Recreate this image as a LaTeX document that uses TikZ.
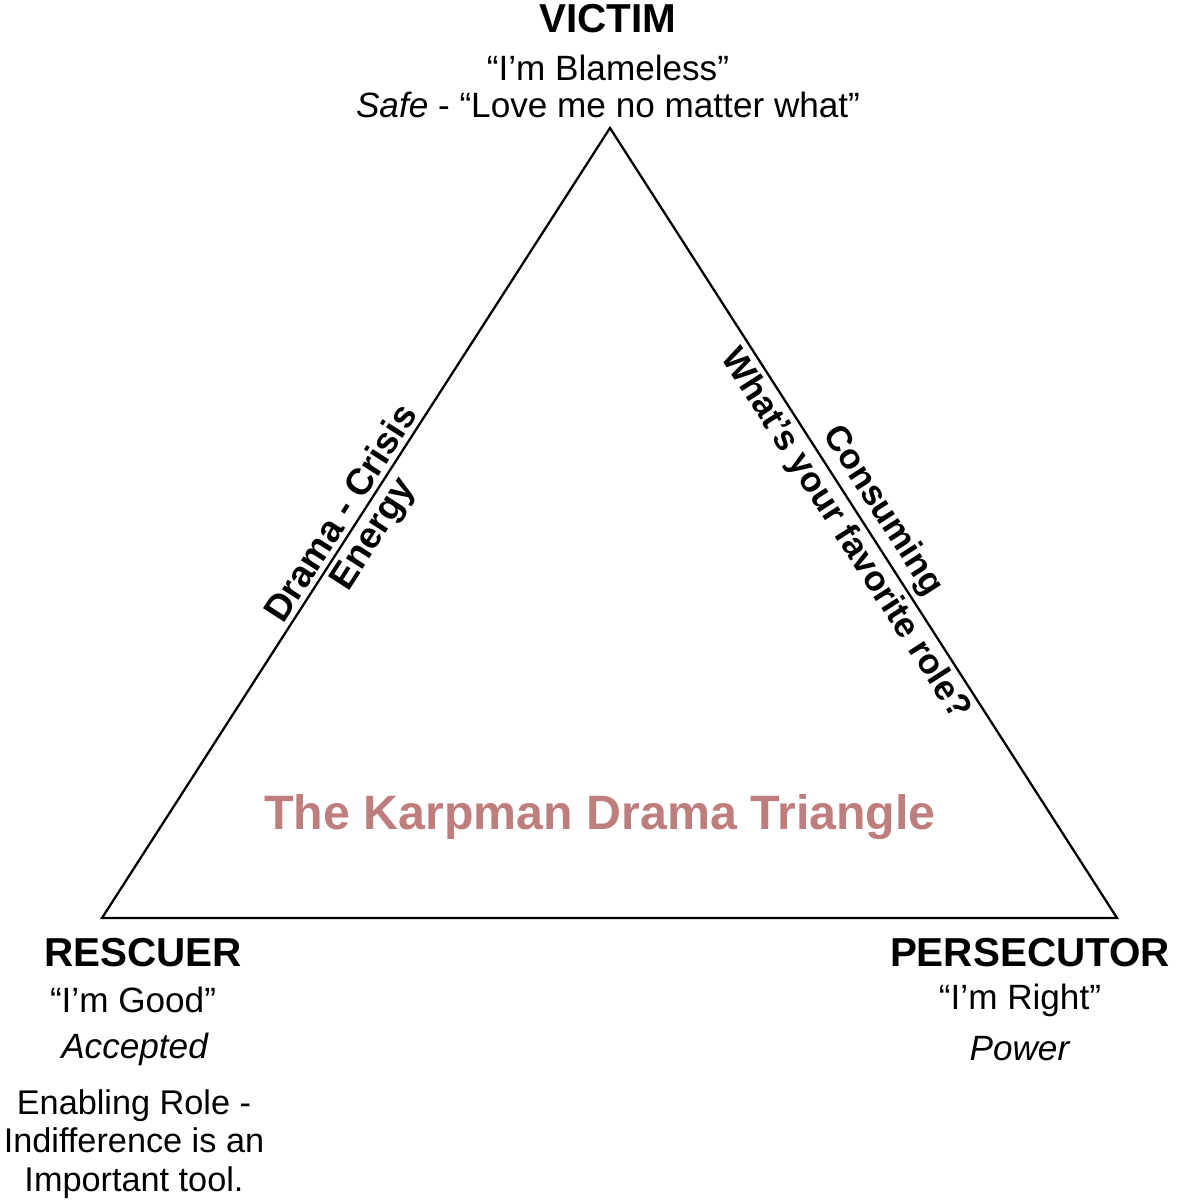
\documentclass[tikz,border=0pt]{standalone}
\usepackage{fontspec}
\setmainfont{Liberation Sans}
\usetikzlibrary{positioning}
\definecolor{titlerose}{RGB}{190,126,126}
\tikzset{
    rolename/.style={font=\fontsize{23}{27}\selectfont\bfseries, text centered, inner sep=0pt},
    motto/.style={font=\fontsize{20}{24}\selectfont, text centered, inner sep=0pt},
    note/.style={font=\fontsize{19.5}{21.8}\selectfont, align=center, inner sep=0pt},
    edgetext/.style={font=\fontsize{20}{24}\selectfont\bfseries, sloped, inner sep=3pt},
    edge/.style={line width=1.3pt, line join=miter},
    title/.style={font=\fontsize{27.5}{32}\selectfont\bfseries, color=titlerose}
}
\begin{document}
\begin{tikzpicture}

% Page frame
\useasboundingbox (0,0) rectangle (23.58,24);

% Triangle corners
\coordinate (victim_pt) at (12.2,21.44);
\coordinate (rescuer_pt) at (2.04,5.64);
\coordinate (persecutor_pt) at (22.34,5.64);

% Triangle
\draw[edge] (victim_pt) -- (persecutor_pt) -- (rescuer_pt) -- cycle;

% Victim (top)
\node[rolename] (victim) at (12.16,23.62) {VICTIM};
\node[motto] (victim_motto) at (12.16,22.64) {“I’m Blameless”};
\node[motto] (victim_need) at (12.16,21.9) {\textit{Safe} - “Love me no matter what”};

% Rescuer (bottom left)
\node[rolename] (rescuer) at (2.86,4.94) {RESCUER};
\node[motto] (rescuer_motto) at (2.66,4.0) {“I’m Good”};
\node[motto] (rescuer_need) at (2.7,3.02) {\textit{Accepted}};
\node[note] (rescuer_note) at (2.68,1.12) {Enabling Role -\\Indifference is an\\Important tool.};

% Persecutor (bottom right)
\node[rolename] (persecutor) at (20.6,4.94) {PERSECUTOR};
\node[motto] (persecutor_motto) at (20.4,4.0) {“I’m Right”};
\node[motto] (persecutor_need) at (20.4,3.02) {\textit{Power}};

% Edge labels
\path (rescuer_pt) -- node[edgetext, above, font=\fontsize{21}{25}\selectfont\bfseries] (drama) {Drama - Crisis}
    node[edgetext, below, font=\fontsize{21}{25}\selectfont\bfseries] (energy) {Energy} (victim_pt);
\path (victim_pt) -- node[edgetext, above] (consuming) {Consuming}
    node[edgetext, below] (favorite) {What’s your favorite role?} (persecutor_pt);

% Title
\node[title] (karpman) at (12.0,7.66) {The Karpman Drama Triangle};

\end{tikzpicture}
\end{document}
